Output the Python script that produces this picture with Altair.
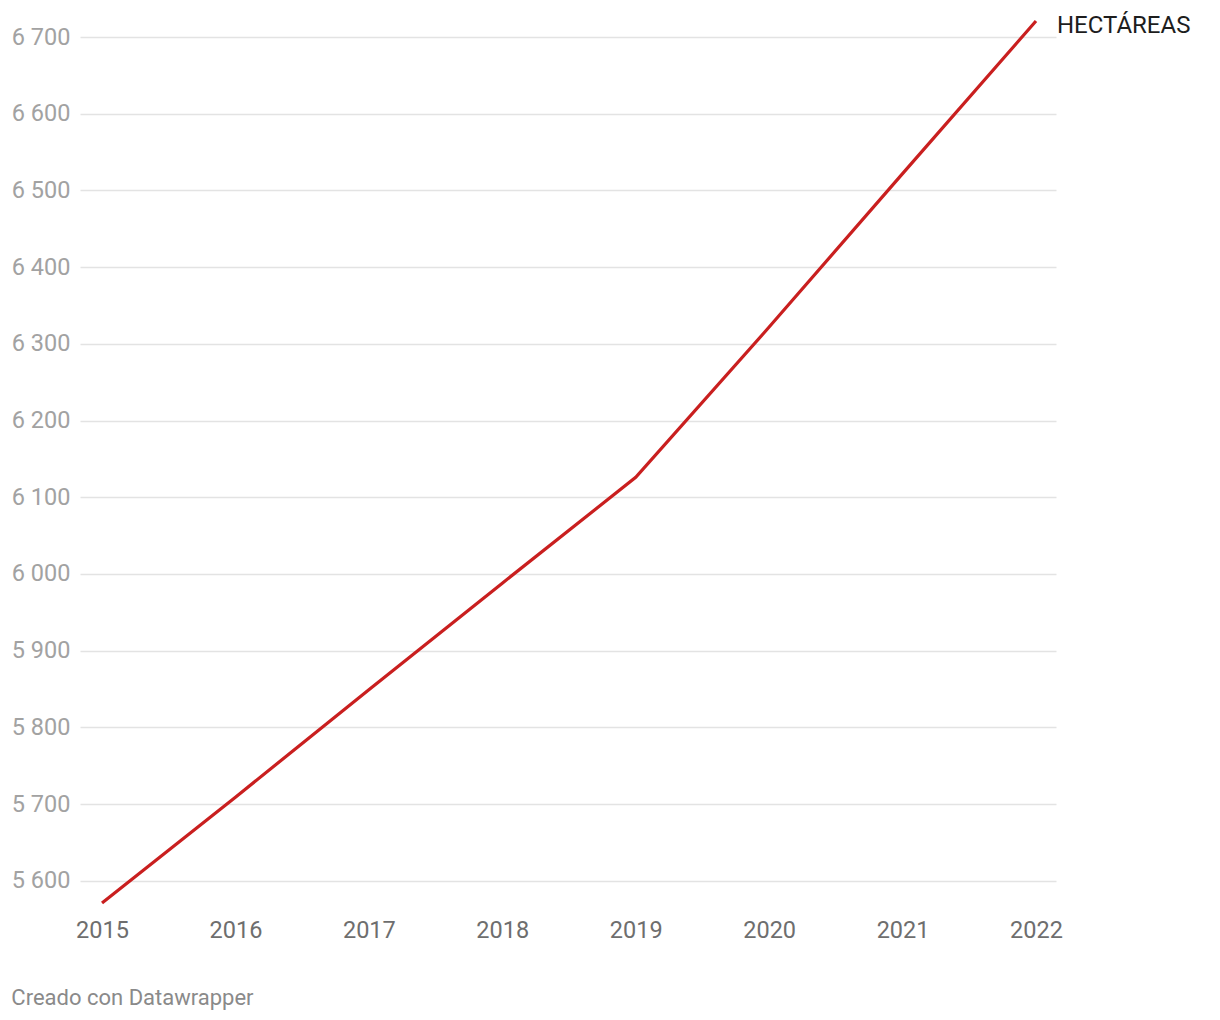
import altair as alt
import pandas as pd

years = [2015, 2016, 2017, 2018, 2019, 2020, 2021, 2022]
hectareas = [5571, 5709, 5849, 5988, 6126, 6322, 6522, 6721]
y_ticks = [5600, 5700, 5800, 5900, 6000, 6100, 6200, 6300, 6400, 6500, 6600, 6700]
series_label = "HECTÁREAS"
credit = "Creado con Datawrapper"

df = pd.DataFrame({"year": years, "value": hectareas})
df_last = df.tail(1).assign(label=series_label)

x = alt.X(
    "year:Q",
    scale=alt.Scale(domain=[2014.835, 2022.15], nice=False, zero=False),
    axis=alt.Axis(
        values=years, format="d", title=None, grid=False, domain=False,
        ticks=False, tickSize=0, labelFont="Roboto", labelFontSize=23.5,
        labelColor="#6e6e6e", labelPadding=15, labelFlush=False,
    ),
)
y = alt.Y(
    "value:Q",
    scale=alt.Scale(domain=[5571, 6721], nice=False, zero=False),
    axis=alt.Axis(
        values=y_ticks, title=None, domain=False, ticks=False, tickSize=0,
        grid=True, gridColor="#e3e3e3", gridWidth=1.5,
        labelFont="Roboto", labelFontSize=23.5, labelColor="#a2a2a2",
        labelPadding=10,
        labelExpr="replace(format(datum.value, ','), ',', ' ')",
    ),
)

line = alt.Chart(df).mark_line(color="#c91f1f", strokeWidth=3.2).encode(x=x, y=y)
label = alt.Chart(df_last).mark_text(
    align="left", baseline="middle", dx=21, dy=5, font="Roboto",
    fontSize=24, color="#1d1d1d",
).encode(x=x, y=y, text="label:N")

chart = (line + label).properties(
    width=976,
    height=882,
    autosize=alt.AutoSizeParams(type="none"),
    padding={"left": 72, "top": 13, "right": 150, "bottom": 110},
    title=alt.TitleParams(
        credit, orient="bottom", anchor="start", frame="bounds",
        font="Roboto", fontSize=22, fontWeight="normal", color="#8a8a8a",
        offset=46,
    ),
).configure_view(stroke=None)

chart.save("out.html", embed_options={"renderer": "svg", "actions": False})
